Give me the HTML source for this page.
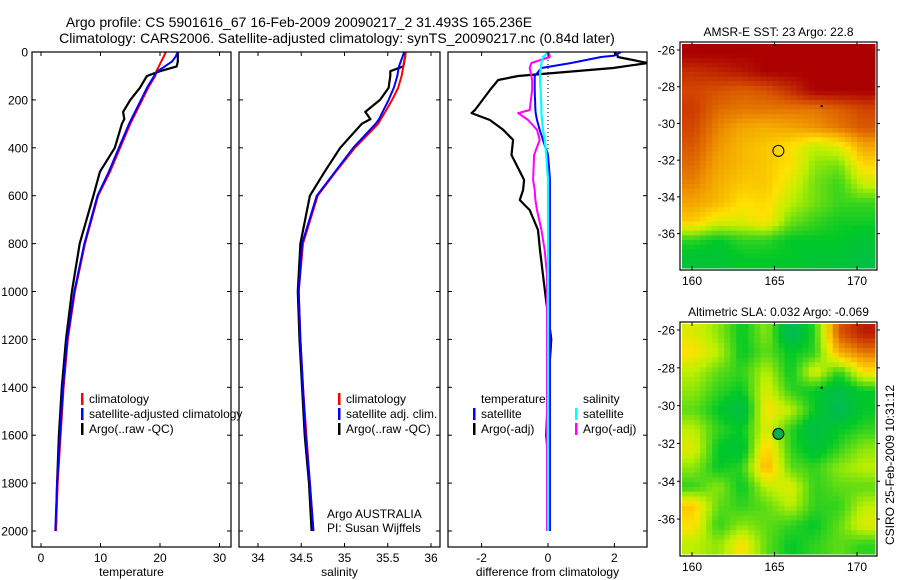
<!DOCTYPE html>
<html><head><meta charset="utf-8"><style>
body{margin:0;background:#fff;width:900px;height:580px;overflow:hidden}
svg{display:block;font-family:"Liberation Sans",sans-serif}
</style></head><body>
<svg id="fig" width="900" height="580" viewBox="0 0 900 580" xmlns="http://www.w3.org/2000/svg">
<text x="299" y="27" font-size="14" text-anchor="middle">Argo profile: CS 5901616_67 16-Feb-2009 20090217_2 31.493S 165.236E</text>
<text x="337" y="43" font-size="14" text-anchor="middle">Climatology: CARS2006. Satellite-adjusted climatology: synTS_20090217.nc (0.84d later)</text>
<g id="g"></g>
</svg>
<script>
// depth levels (shared)
const tDepth=[0,20,40,60,80,100,150,200,250,280,300,400,500,600,800,1000,1200,1400,1600,1800,2000];
const tempArgo=[23.0,23.0,23.0,22.8,20.0,17.8,16.6,15.0,13.8,14.0,13.6,12.4,9.9,8.8,6.5,5.2,4.2,3.5,3.0,2.7,2.5];
const tempClim=[21.0,20.6,20.2,19.8,19.4,19.2,18.0,17.0,16.0,15.4,15.0,13.3,11.6,9.6,7.4,5.7,4.5,3.8,3.3,2.8,2.5];
const tempSat=[23.0,22.6,22.0,20.8,19.6,19.0,17.8,16.8,15.8,15.2,14.8,13.1,11.4,9.5,7.3,5.6,4.4,3.7,3.2,2.7,2.4];
const salArgo=[35.70,35.70,35.69,35.68,35.53,35.53,35.51,35.41,35.24,35.30,35.20,34.95,34.77,34.60,34.49,34.46,34.48,34.51,34.54,34.59,34.62];
const salClim=[35.71,35.70,35.69,35.68,35.67,35.66,35.62,35.55,35.47,35.42,35.39,35.12,34.90,34.69,34.52,34.47,34.49,34.52,34.56,34.60,34.64];
const salSat=[35.69,35.67,35.65,35.63,35.62,35.61,35.57,35.51,35.44,35.40,35.36,35.10,34.89,34.68,34.51,34.47,34.49,34.52,34.55,34.60,34.64];
const dDepth=[0,15,21,46,67,100,117,159,242,255,284,325,367,430,534,576,618,660,743,827,931,1035,1200,1400,1600,1800,2000];
const dTempArgo=[2.0,2.1,2.1,3.0,1.96,-0.9,-1.5,-1.75,-2.2,-2.3,-1.75,-1.35,-1.05,-1.1,-0.72,-0.75,-0.85,-0.55,-0.3,-0.24,-0.15,-0.06,0.1,0.0,-0.05,0.05,0.0];
const dTempSat=[2.2,2.0,1.6,0.7,-0.2,-0.4,-0.4,-0.4,-0.38,-0.37,-0.33,-0.25,-0.15,0.0,0.06,0.06,0.06,0.06,0.06,0.06,0.06,0.06,0.06,0.06,0.06,0.06,0.06];
const dSalSat=[0.0,-0.1,-0.15,-0.2,-0.22,-0.24,-0.24,-0.22,-0.2,-0.2,-0.18,-0.15,-0.1,-0.05,0.0,0.0,0.0,0.0,0.0,0.0,0.0,0.0,0.0,0.0,0.0,0.0,0.0];
const dSalArgo=[0.0,0.05,0.05,-0.5,-0.55,-0.5,-0.48,-0.48,-0.55,-0.9,-0.6,-0.33,-0.25,-0.42,-0.45,-0.4,-0.38,-0.33,-0.2,-0.1,-0.03,-0.03,-0.03,-0.03,-0.03,-0.03,-0.03];
const depthTicks=[0,200,400,600,800,1000,1200,1400,1600,1800,2000];
const tempTicks=[0,10,20,30];
const salTicks=[34,34.5,35,35.5,36];
const diffTicks=[-2,0,2];
// map grids (rows north->south, cols west->east), normalised colour values
const sstGrid=[
[1,1,1,1,1,1,1,1],[.92,.94,.96,1,1,1,1,1],[.88,.86,.84,.86,.92,1,1,1],[.9,.82,.8,.8,.8,.8,.84,.88],
[.88,.78,.72,.7,.72,.75,.8,.85],[.85,.75,.68,.65,.6,.5,.55,.72],[.82,.72,.68,.65,.6,.45,.42,.62],
[.78,.7,.65,.65,.55,.42,.36,.52],[.72,.68,.6,.62,.5,.42,.36,.36],[.65,.55,.55,.6,.42,.36,.32,.32],
[.35,.3,.35,.35,.3,.3,.3,.26],[.26,.26,.3,.3,.3,.26,.26,.22]];
const slaGrid=[
[.55,.45,.3,.45,.15,.35,.85,.95],[.6,.5,.3,.4,.3,.35,.7,.8],[.5,.4,.35,.5,.3,.55,.35,.6],[.45,.35,.3,.55,.35,.3,.2,.3],
[.4,.3,.2,.6,.5,.3,.15,.3],[.5,.35,.3,.55,.35,.2,.3,.35],[.55,.3,.25,.65,.35,.25,.35,.45],[.45,.3,.35,.7,.4,.35,.45,.5],
[.35,.45,.3,.5,.55,.35,.4,.4],[.65,.4,.35,.4,.5,.35,.35,.5],[.6,.35,.45,.4,.35,.3,.4,.55],[.5,.45,.6,.4,.3,.35,.4,.35]];
const lonTicks=[160,165,170];
const latTicks=[-26,-28,-30,-32,-34,-36];

const NS="http://www.w3.org/2000/svg";
const G=document.getElementById('g');
function el(tag,attrs,parent,txt){const e=document.createElementNS(NS,tag);for(const k in attrs)e.setAttribute(k,attrs[k]);if(txt!==undefined)e.textContent=txt;(parent||G).appendChild(e);return e;}
const yD=d=>52+d*0.2395;
const panels=[
 {x0:32,x1:231,fx:v=>41+v*5.95,ticks:tempTicks,lab:'temperature',name:'temperature-panel'},
 {x0:239,x1:440,fx:v=>258+(v-34)*86.5,ticks:salTicks,lab:'salinity',name:'salinity-panel'},
 {x0:448,x1:647,fx:v=>548+v*33.2,ticks:diffTicks,lab:'difference from climatology',name:'difference-panel'}];
const yTop=52,yBot=547;
panels.forEach((p,i)=>{
 const g=el('g',{});
 
 
 const cp=el('clipPath',{id:'c'+i},g);el('rect',{x:p.x0,y:yTop,width:p.x1-p.x0,height:yBot-yTop},cp);
 p.g=el('g',{'clip-path':'url(#c'+i+')'},g);
 const fr=el('rect',{x:p.x0,y:yTop,width:p.x1-p.x0,height:yBot-yTop,fill:'none',stroke:'#000','stroke-width':1.2},g);
 
 
 depthTicks.forEach(d=>{const y=yD(d);
  el('line',{x1:p.x0,x2:p.x0+4,y1:y,y2:y,stroke:'#000'},g);el('line',{x1:p.x1,x2:p.x1-4,y1:y,y2:y,stroke:'#000'},g);
  if(i===0){const t=el('text',{x:28,y:y+4.5,'font-size':12,'text-anchor':'end'},g,String(d));
   }});
 p.ticks.forEach(v=>{const x=p.fx(v);
  el('line',{x1:x,x2:x,y1:yTop,y2:yTop+4,stroke:'#000'},g);el('line',{x1:x,x2:x,y1:yBot,y2:yBot-4,stroke:'#000'},g);
  const t=el('text',{x:x,y:562,'font-size':12,'text-anchor':'middle'},g,String(v));
  });
 const xl=el('text',{x:(p.x0+p.x1)/2,y:576,'font-size':12,'text-anchor':'middle'},g,p.lab);
 
});
function line(p,depths,vals,color,name,w){
 const pts=depths.map((d,k)=>p.fx(vals[k]).toFixed(1)+','+yD(d).toFixed(1)).join(' ');
 const e=el('polyline',{points:pts,fill:'none',stroke:color,'stroke-width':w||2,'stroke-linejoin':'round'},p.g);
 
 
}
const z=el('line',{x1:panels[2].fx(0),x2:panels[2].fx(0),y1:yTop,y2:yD(2000),stroke:'#000','stroke-dasharray':'1,3'},panels[2].g);

line(panels[0],tDepth,tempArgo,'#000','temp-argo-line',2.2);
line(panels[0],tDepth,tempClim,'#f00','temp-climatology-line');
line(panels[0],tDepth,tempSat,'#00f','temp-satellite-line');
line(panels[1],tDepth,salArgo,'#000','sal-argo-line',2.2);
line(panels[1],tDepth,salClim,'#f00','sal-climatology-line');
line(panels[1],tDepth,salSat,'#00f','sal-satellite-line');
line(panels[2],dDepth,dTempArgo,'#000','temp-diff-argo-line',2.2);
line(panels[2],dDepth,dSalArgo,'#f0f','sal-diff-argo-line');
line(panels[2],dDepth,dTempSat,'#00f','temp-diff-satellite-line');
line(panels[2],dDepth,dSalSat,'#0ff','sal-diff-satellite-line',2.2);
function legend(x,y,color,txt){
 const g=el('g',{});
 
 
 if(color)el('rect',{x:x,y:y-10,width:2.5,height:12,fill:color},g);
 el('text',{x:x+8,y:y,'font-size':12},g,txt);
}
legend(81,403,'#f00','climatology');legend(81,418,'#00f','satellite-adjusted climatology');legend(81,433,'#000','Argo(..raw -QC)');
legend(338,403,'#f00','climatology');legend(338,418,'#00f','satellite adj. clim.');legend(338,433,'#000','Argo(..raw -QC)');
legend(473,403,null,'temperature');legend(473,418,'#00f','satellite');legend(473,433,'#000','Argo(-adj)');
legend(575,403,null,'salinity');legend(575,418,'#0ff','satellite');legend(575,433,'#f0f','Argo(-adj)');
const a1=el('text',{x:327,y:518,'font-size':12},G,'Argo AUSTRALIA');
const a2=el('text',{x:327,y:532,'font-size':12},G,'PI: Susan Wijffels');

const stops=[[0,[0,170,140]],[0.3,[0,200,40]],[0.5,[190,240,0]],[0.6,[255,225,0]],[0.75,[240,150,0]],[0.88,[210,70,0]],[1,[170,0,0]]];
function cmap(v){v=Math.max(0,Math.min(1,v));for(let k=1;k<stops.length;k++){if(v<=stops[k][0]){const [a,ca]=stops[k-1],[b,cb]=stops[k];const t=(v-a)/(b-a);return 'rgb('+ca.map((c,j)=>Math.round(c+(cb[j]-c)*t)).join(',')+')';}}return 'rgb(170,0,0)';}
function sample(grid,u,v){ // bilinear sample at fractional cell coords
 const R=grid.length,C=grid[0].length;
 const x=Math.max(0,Math.min(C-1,u-0.5)),y=Math.max(0,Math.min(R-1,v-0.5));
 const x0=Math.floor(x),y0=Math.floor(y),x1=Math.min(C-1,x0+1),y1=Math.min(R-1,y0+1),fx=x-x0,fy=y-y0;
 return grid[y0][x0]*(1-fx)*(1-fy)+grid[y0][x1]*fx*(1-fy)+grid[y1][x0]*(1-fx)*fy+grid[y1][x1]*fx*fy;
}
function drawMap(name,top,bot,grid,title,filled){
 const L=680,R=877;
 const g=el('g',{});
 
 
 const fx=lon=>692+(lon-160)*16.5, fy=lat=>top+8+(-26-lat)*((bot-top-26)/11);
 const rows=grid.length,cols=grid[0].length,SUB=4;
 const cw=(R-L-4)/(cols*SUB),ch=(bot-top-4)/(rows*SUB);
 for(let r=0;r<rows*SUB;r++)for(let c=0;c<cols*SUB;c++){
  const v=sample(grid,(c+0.5)/SUB,(r+0.5)/SUB);
  el('rect',{x:(L+2+c*cw).toFixed(2),y:(top+2+r*ch).toFixed(2),width:(cw+0.5).toFixed(2),height:(ch+0.5).toFixed(2),fill:cmap(v)},g);}
 el('rect',{x:L,y:top,width:R-L,height:bot-top,fill:'none',stroke:'#000','stroke-width':1.2},g);
 lonTicks.forEach(v=>{const x=fx(v);el('line',{x1:x,x2:x,y1:top,y2:top+4,stroke:'#000'},g);el('line',{x1:x,x2:x,y1:bot,y2:bot-4,stroke:'#000'},g);
  const t=el('text',{x:x,y:bot+15,'font-size':12,'text-anchor':'middle'},g,String(v));});
 latTicks.forEach(v=>{const y=fy(v);el('line',{x1:L,x2:L-3,y1:y,y2:y,stroke:'#000'},g);el('line',{x1:R,x2:R+3,y1:y,y2:y,stroke:'#000'},g);
  const t=el('text',{x:675,y:y+4.5,'font-size':12,'text-anchor':'end'},g,String(v));});
 const tt=el('text',{x:(L+R)/2,y:top-6,'font-size':12,'text-anchor':'middle'},g,title);
 
 const m=el('circle',{cx:fx(165.236),cy:fy(-31.493),r:5.5,fill:filled?'#00b050':'none',stroke:'#000','stroke-width':1},g);
 
 el('rect',{x:fx(167.8),y:fy(-29.0),width:2,height:2,fill:'#000'},g);
}
drawMap('sst-map',42,270,sstGrid,'AMSR-E SST: 23 Argo: 22.8',false);
drawMap('sla-map',322,556,slaGrid,'Altimetric SLA: 0.032 Argo: -0.069',true);
const cs=el('text',{x:0,y:0,'font-size':12,'text-anchor':'middle',transform:'translate(894,465) rotate(-90)'},G,'CSIRO 25-Feb-2009 10:31:12');

</script>
</body></html>
